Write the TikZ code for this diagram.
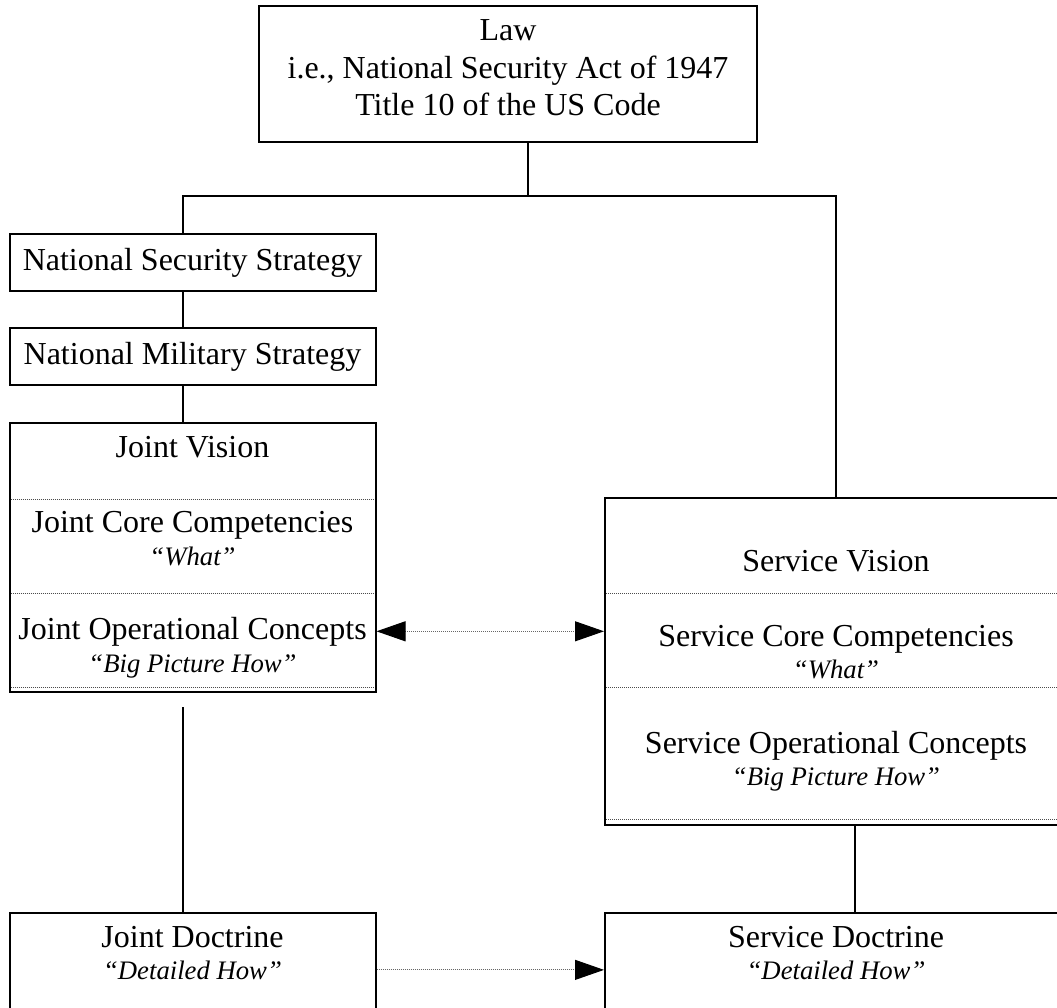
\documentclass[tikz,border=0pt]{standalone}
\usepackage{fontspec}
\setmainfont{Liberation Serif}
\usetikzlibrary{arrows.meta, positioning}

\begin{document}
\begin{tikzpicture}[x=1pt, y=-1pt,
    >={Triangle[length=29pt, width=20pt, color=black]},
    box/.style={draw, line width=2pt, inner sep=0pt},
    txt/.style={inner sep=0pt, font=\fontsize{32}{37.5}\selectfont},
    tag/.style={inner sep=0pt, font=\fontsize{26.7}{30}\selectfont\itshape},
    sep/.style={densely dotted, line width=1pt, draw=black!70, shorten <=2pt, shorten >=2pt},
    link/.style={line width=2pt},
    xref/.style={densely dotted, line width=1pt, draw=black!60}]
\clip (0,0) rectangle (1057,1008);

% Law box
\node[box, minimum width=498pt, minimum height=136pt] (law) at (508,74) {};
\node[txt, align=center] (lawtext) at (508,68) {Law\\i.e., National Security Act of 1947\\Title 10 of the US Code};

% strategy chain
\node[box, txt, minimum width=366pt, minimum height=57pt] (nss) at (192.5,262.5) {National Security Strategy};
\node[box, txt, minimum width=366pt, minimum height=57pt] (nms) at (192.5,356.5) {National Military Strategy};

% Joint block
\node[box, minimum width=366pt, minimum height=269pt] (joint) at (192.5,557.5) {};
\foreach \y in {499,593,687}
    \draw[sep] (joint.west |- 0,\y) -- (joint.east |- 0,\y);
\node[txt, anchor=base] (jv) at (192.5,457) {Joint Vision};
\node[txt, anchor=base] (jcc) at (192.5,532) {Joint Core Competencies};
\node[tag, below=33pt of jcc.base, anchor=base] (jccq) {“What”};
\node[txt, anchor=base] (joc) at (192.5,639) {Joint Operational Concepts};
\node[tag, below=33pt of joc.base, anchor=base] (jocq) {“Big Picture How”};

% Service block
\node[box, minimum width=462pt, minimum height=327pt] (svc) at (836,661.5) {};
\foreach \y in {593,687,819}
    \draw[sep] (svc.west |- 0,\y) -- (svc.east |- 0,\y);
\node[txt, anchor=base] (sv) at (836,571) {Service Vision};
\node[txt, anchor=base] (scc) at (836,646) {Service Core Competencies};
\node[tag, below=32pt of scc.base, anchor=base] (sccq) {“What”};
\node[txt, anchor=base] (soc) at (836,753) {Service Operational Concepts};
\node[tag, below=32pt of soc.base, anchor=base] (socq) {“Big Picture How”};

% doctrine boxes
\node[box, minimum width=366pt, minimum height=96pt] (jdoc) at (192.5,961) {};
\node[txt, anchor=base] (jd) at (192.5,947) {Joint Doctrine};
\node[tag, below=32pt of jd.base, anchor=base] (jdq) {“Detailed How”};
\node[box, minimum width=462pt, minimum height=96pt] (sdoc) at (836,961) {};
\node[txt, anchor=base] (sd) at (836,947) {Service Doctrine};
\node[tag, below=32pt of sd.base, anchor=base] (sdq) {“Detailed How”};

% connectors
\coordinate (spine) at (183,196);
\coordinate (bus) at (528,196);
\coordinate (jgap) at (183,707);
\coordinate (sgap) at (855,825);
\draw[link] (law.south -| bus) -- (bus);
\draw[link] (nss.north -| spine) |- (svc.north |- spine) -- (svc.north);
\draw[link] (nss.south -| spine) -- (nms.north -| spine);
\draw[link] (nms.south -| spine) -- (joint.north -| spine);
\draw[link] (jgap) -- (jdoc.north -| jgap);
\draw[link] (svc.south -| sgap) -- (sdoc.north -| sgap);

% cross references
\draw[xref, <->] (joint.east |- joc) -- (svc.west |- joc);
\draw[xref, ->] (jdoc.east |- jdq) -- (sdoc.west |- jdq);
\end{tikzpicture}
\end{document}
